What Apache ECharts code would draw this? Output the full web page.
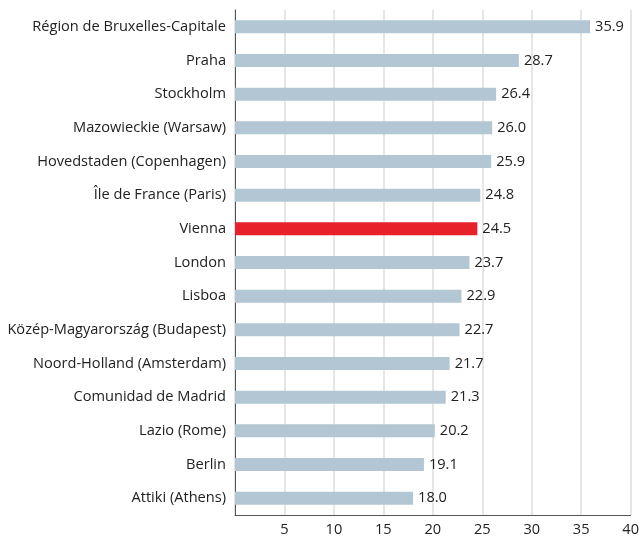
<!DOCTYPE html>
<html>
<head>
<meta charset="utf-8">
<script src="https://cdn.jsdelivr.net/npm/echarts@6/dist/echarts.min.js"></script>
<style>
  html, body { margin: 0; padding: 0; background: #fff; }
  #chart { width: 642px; height: 538px; }
</style>
</head>
<body>
<div id="chart"></div>
<script>
const regions = [
  "Région de Bruxelles-Capitale",
  "Praha",
  "Stockholm",
  "Mazowieckie (Warsaw)",
  "Hovedstaden (Copenhagen)",
  "Île de France (Paris)",
  "Vienna",
  "London",
  "Lisboa",
  "Közép-Magyarország (Budapest)",
  "Noord-Holland (Amsterdam)",
  "Comunidad de Madrid",
  "Lazio (Rome)",
  "Berlin",
  "Attiki (Athens)"
];
const values = [35.9, 28.7, 26.4, 26.0, 25.9, 24.8, 24.5, 23.7, 22.9, 22.7, 21.7, 21.3, 20.2, 19.1, 18.0];
const highlight = "Vienna";

const font = "'Open Sans', 'Noto Sans', sans-serif";
const fs = 14.6;
const chart = echarts.init(document.getElementById("chart"));

const option = {
  animation: false,
  grid: { left: 235, right: 7, top: 10, bottom: 23, containLabel: false },
  xAxis: {
    type: "value",
    min: 0,
    max: 40,
    interval: 5,
    axisLine: { show: true, lineStyle: { color: "#555", width: 1 } },
    axisTick: { show: false },
    axisLabel: {
      color: "#222",
      fontFamily: font,
      fontSize: fs,
      margin: 7,
      formatter: (v) => (v === 0 ? "" : v)
    },
    splitLine: { show: true, lineStyle: { color: "#e6e6e6", width: 2 } }
  },
  yAxis: {
    type: "category",
    inverse: true,
    data: regions,
    axisLine: { show: true, lineStyle: { color: "#555", width: 1 } },
    axisTick: { show: false },
    axisLabel: { color: "#222", fontFamily: font, fontSize: fs, margin: 9 }
  },
  series: [
    {
      type: "bar",
      barWidth: 13,
      data: values.map((v, i) => ({
        value: v,
        itemStyle: { color: regions[i] === highlight ? "#e8202a" : "#b3c6d3" }
      })),
      label: {
        show: true,
        position: "right",
        distance: 5,
        color: "#222",
        fontFamily: font,
        fontSize: fs,
        formatter: (p) => p.value.toFixed(1)
      }
    }
  ]
};
chart.setOption(option);
</script>
</body>
</html>
